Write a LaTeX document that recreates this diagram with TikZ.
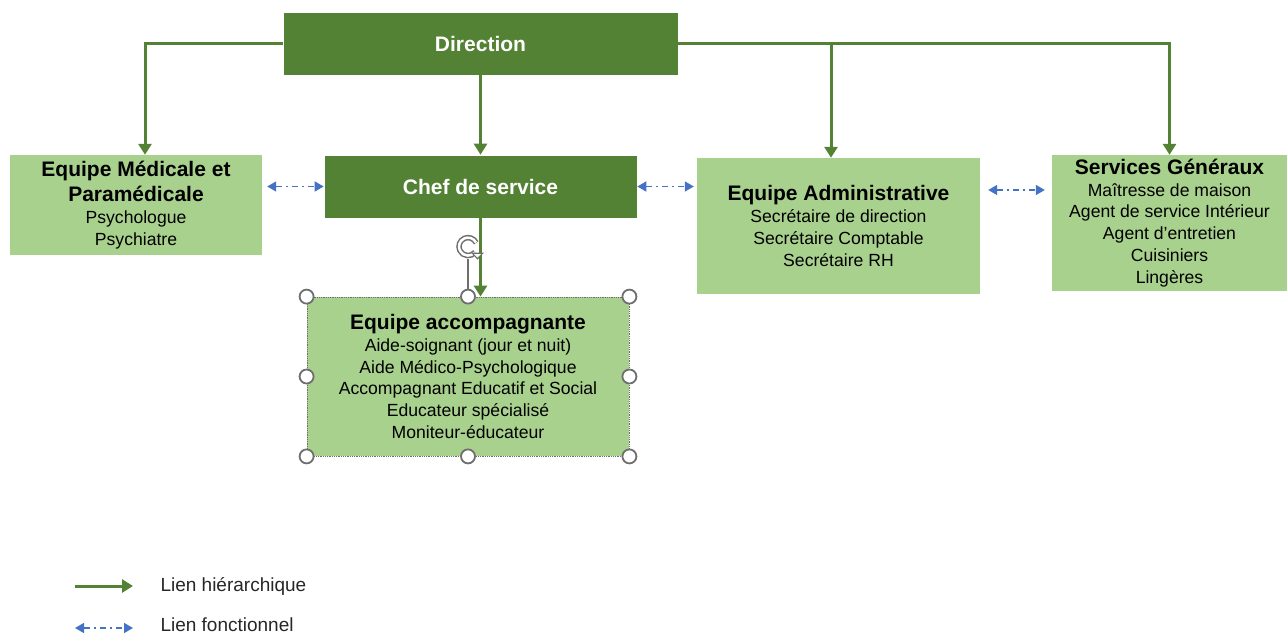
\documentclass[tikz,border=0pt]{standalone}
\usepackage{fontspec}
\setmainfont{Liberation Sans}
\usetikzlibrary{arrows.meta,calc}
\definecolor{dkgreen}{HTML}{548235}
\definecolor{ltgreen}{HTML}{A9D18E}
\definecolor{fblue}{HTML}{4472C4}
\definecolor{hgray}{HTML}{6E6E6E}
\newcommand\boxtitle[1]{{\bfseries\fontsize{21}{25}\selectfont #1}}
\begin{document}
\begin{tikzpicture}[x=1pt,y=-1pt,
  darkbox/.style={rectangle, fill=dkgreen, draw=white, line width=0.6pt, text=white,
    font=\bfseries\fontsize{21}{25}\selectfont, inner sep=0pt},
  lightbox/.style={rectangle, fill=ltgreen, draw=none, inner sep=0pt, align=center,
    font=\fontsize{17.6}{21.8}\selectfont, text=black},
  hier/.style={draw=dkgreen, line width=3pt, -{Triangle[width=13pt,length=11pt]}},
  func/.style={draw=fblue, line width=1.5pt, dash pattern=on 6pt off 4pt on 2pt off 4pt,
    {Triangle[width=10pt,length=9pt]}-{Triangle[width=10pt,length=9pt]}},
  handle/.style={circle, draw=hgray, fill=white, line width=1.8pt, minimum size=14pt, inner sep=0pt},
  legtext/.style={anchor=west, font=\fontsize{19}{23}\selectfont, text=black!85}]
\useasboundingbox (0,0) rectangle (1287,636);
\clip (0,0) rectangle (1287,636);

% boxes
\node[darkbox, minimum width=395pt, minimum height=63pt] (dir) at (480.5,43.5) {Direction};
\node[darkbox, minimum width=313pt, minimum height=63pt] (chef) at (480.5,186.5) {Chef de service};
\node[lightbox, minimum width=252pt, minimum height=100pt] (med) at (136,205)
  {\boxtitle{Equipe Médicale et}\\[3pt]\boxtitle{Paramédicale}\\Psychologue\\Psychiatre};
\node[lightbox, minimum width=283pt, minimum height=136pt] (adm) at (838.5,226)
  {\boxtitle{Equipe Administrative}\\Secrétaire de direction\\Secrétaire Comptable\\Secrétaire RH};
\node[lightbox, minimum width=235pt, minimum height=136pt] (sg) at (1169.5,223)
  {\boxtitle{Services Généraux}\\Maîtresse de maison\\Agent de service Intérieur\\Agent d’entretien\\Cuisiniers\\Lingères};
\node[lightbox, draw=hgray, densely dotted, line width=0.8pt, minimum width=322pt, minimum height=159pt] (acc) at (468,376.5)
  {\boxtitle{Equipe accompagnante}\\Aide-soignant (jour et nuit)\\Aide Médico-Psychologique\\Accompagnant Educatif et Social\\Educateur spécialisé\\Moniteur-éducateur};

% hierarchical links
\draw[hier] (dir.west) -| ($(med.north)+(9,0)$);
\draw[hier] (dir.south) -- (dir.south |- chef.north);
\draw[hier] (dir.east) -| (sg.north);
\draw[hier] ($(dir.east -| adm.north)+(-7.5,0)$) -- ($(adm.north)+(-7.5,0)$);
\draw[hier] (chef.south) -- (chef.south |- acc.north);

% functional links
\draw[func, shorten <=5pt] (chef.west -| med.east) -- (chef.west);
\draw[func, shorten >=3pt] (chef.east) -- (chef.east -| adm.west);
\coordinate (f3) at ($(adm.east)+(0,-36)$);
\draw[func, shorten <=8pt, shorten >=7pt] (f3) -- (f3 -| sg.west);

% selection handles
\coordinate (rot) at ($(acc.north)+(0,-50)$);
\draw[hgray, line width=1.2pt] ($(acc.north)+(0,-4)$) -- ($(acc.north)+(0,-38)$);
\draw[hgray, line width=5.5pt] ($(rot)+(-25:9)$) arc[start angle=-25, end angle=-320, radius=9];
\draw[white, line width=2.5pt] ($(rot)+(-27:9)$) arc[start angle=-27, end angle=-318, radius=9];
\fill[hgray] ($(rot)+(3,6)$) -- ($(rot)+(16,6)$) -- ($(rot)+(9.5,13)$) -- cycle;
\fill[white] ($(rot)+(6,7.5)$) -- ($(rot)+(13,7.5)$) -- ($(rot)+(9.5,11)$) -- cycle;
\foreach \a/\n in {north west/h1, north/h2, north east/h3, west/h4, east/h5, south west/h6, south/h7, south east/h8}
  \node[handle] (\n) at (acc.\a) {};

% legend
\coordinate (l1a) at (75,586);
\coordinate (l1b) at (133,586);
\draw[hier] (l1a) -- (l1b);
\node[legtext] (lt1) at (157,586) {Lien hiérarchique};
\coordinate (l2a) at (75,628);
\coordinate (l2b) at (133,628);
\draw[func] (l2a) -- (l2b);
\node[legtext] (lt2) at (157,625) {Lien fonctionnel};
\end{tikzpicture}
\end{document}
